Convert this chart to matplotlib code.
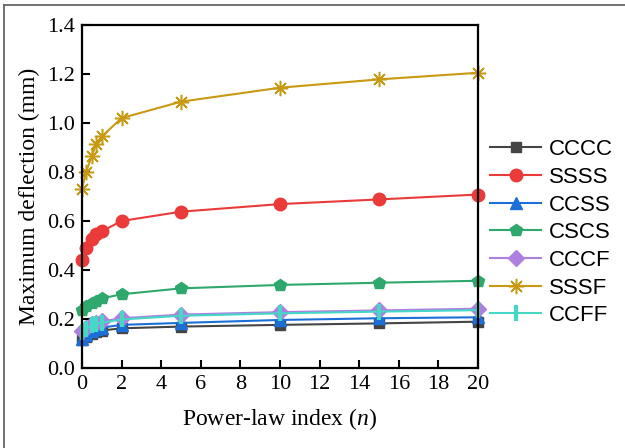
import matplotlib
matplotlib.use("Agg")
import matplotlib.pyplot as plt
from matplotlib.lines import Line2D

plt.rcParams["mathtext.fontset"] = "custom"
plt.rcParams["mathtext.it"] = "Liberation Serif:italic"
plt.rcParams["mathtext.rm"] = "Liberation Serif"

n_values = [0, 0.2, 0.5, 0.7, 1, 2, 5, 10, 15, 20]
series_names = ["CCCC", "SSSS", "CCSS", "CSCS", "CCCF", "SSSF", "CCFF"]
cccc = [0.115, 0.128, 0.140, 0.147, 0.153, 0.162, 0.169, 0.176, 0.182, 0.189]
ssss = [0.440, 0.490, 0.525, 0.545, 0.558, 0.600, 0.638, 0.669, 0.688, 0.708]
ccss = [0.120, 0.135, 0.150, 0.158, 0.165, 0.176, 0.184, 0.196, 0.203, 0.207]
cscs = [0.237, 0.252, 0.265, 0.275, 0.284, 0.301, 0.325, 0.339, 0.348, 0.356]
cccf = [0.150, 0.165, 0.180, 0.185, 0.190, 0.203, 0.218, 0.228, 0.235, 0.242]
sssf = [0.730, 0.800, 0.865, 0.915, 0.945, 1.020, 1.087, 1.144, 1.178, 1.205]
ccff = [0.145, 0.160, 0.175, 0.180, 0.185, 0.198, 0.213, 0.223, 0.230, 0.236]
x_ticks = [0, 2, 4, 6, 8, 10, 12, 14, 16, 18, 20]
y_ticks = [0.0, 0.2, 0.4, 0.6, 0.8, 1.0, 1.2, 1.4]

data = [cccc, ssss, ccss, cscs, cccf, sssf, ccff]
colors = ["#454545", "#ea3a3a", "#1d6fd8", "#2ea86c", "#ad7fe0", "#c89a12", "#45d8c6"]
markers = ["s", "o", "^", "p", "D", (8, 2, 0), "|"]
msizes = [7, 9, 8, 9, 8, 11, 11]

fig = plt.figure(figsize=(6.25, 4.48), dpi=100)
ax = fig.add_axes([0.1312, 0.1786, 0.6336, 0.7656])

for name, ys, c, m, ms in zip(series_names, data, colors, markers, msizes):
    kw = dict(color=c, marker=m, markersize=ms, linewidth=1.5,
              markerfacecolor=c, markeredgecolor=c, label=name, clip_on=False)
    if m == (8, 2, 0):
        kw["markeredgewidth"] = 1.1
    elif m == "|":
        kw["markeredgewidth"] = 3
    ax.plot(n_values, ys, **kw)

serif = "Liberation Serif"
ax.set_xlim(0, 20)
ax.set_ylim(0, 1.4)
ax.set_xticks(x_ticks)
ax.set_yticks(y_ticks)
ax.set_xticklabels([str(t) for t in x_ticks], family=serif, fontsize=16)
ax.set_yticklabels([f"{t:.1f}" for t in y_ticks], family=serif, fontsize=16)
ax.tick_params(direction="in", length=6, width=1.5, top=False, right=False, pad=5)
for s in ax.spines.values():
    s.set_linewidth(1.6)
ax.set_xlabel("Power-law index ($\\mathit{n}$)", family=serif, fontsize=17, labelpad=9)
ax.set_ylabel("Maximum deflection (mm)", family=serif, fontsize=17, labelpad=5)

leg = ax.legend(loc="upper left", bbox_to_anchor=(0.770, 0.709), bbox_transform=fig.transFigure,
                frameon=False, prop={"family": "Liberation Sans", "size": 16},
                handlelength=2.3, handletextpad=0.35, labelspacing=0.3, borderaxespad=0)

fig.add_artist(Line2D([4 / 625, 4 / 625], [0, 1 - 5 / 448], color="#666666", linewidth=1.3, transform=fig.transFigure))
fig.add_artist(Line2D([4 / 625, 1], [1 - 5 / 448, 1 - 5 / 448], color="#666666", linewidth=1.3, transform=fig.transFigure))

fig.savefig("out.png", dpi=100)
